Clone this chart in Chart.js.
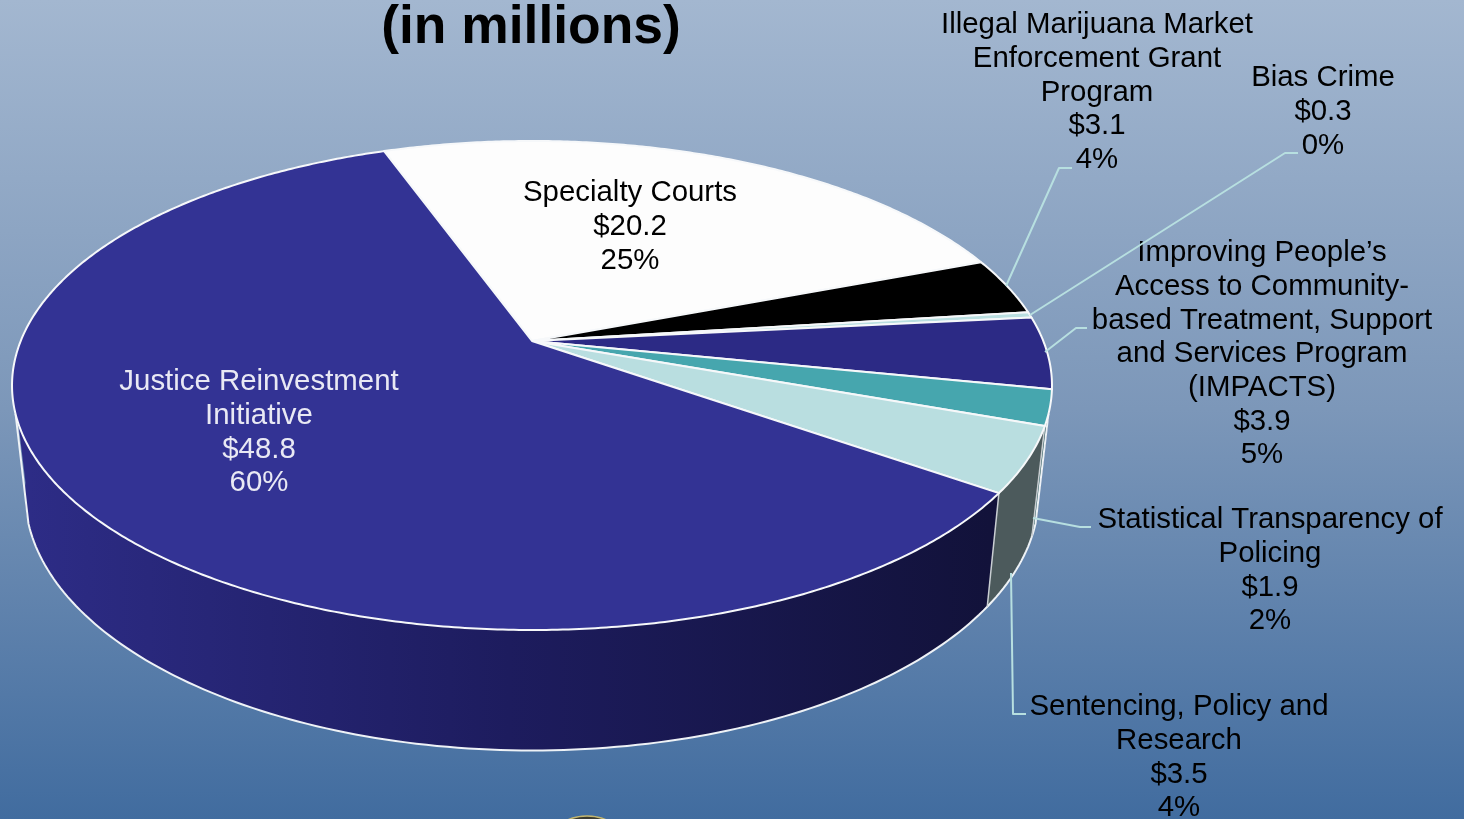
<!DOCTYPE html>
<html>
<head>
<meta charset="utf-8">
<title>Grant programs (in millions)</title>
<script src="https://cdn.jsdelivr.net/npm/chart.js@4"></script>
<style>
  html, body { margin: 0; padding: 0; overflow: hidden; }
  #wrap {
    width: 1464px; height: 819px;
    background: linear-gradient(180deg, #a3b7d0 0%, #7c97b9 50%, #416c9f 100%);
  }
  canvas { display: block; }
</style>
</head>
<body>
<div id="wrap"><canvas id="pie" width="1464" height="819"></canvas></div>
<script>
const chartTitle = "(in millions)"
const categories = [
  "Specialty Courts",
  "Illegal Marijuana Market Enforcement Grant Program",
  "Bias Crime",
  "Improving People's Access to Community-based Treatment, Support and Services Program (IMPACTS)",
  "Statistical Transparency of Policing",
  "Sentencing, Policy and Research",
  "Justice Reinvestment Initiative",
]
const amounts = [20.2, 3.1, 0.3, 3.9, 1.9, 3.5, 48.8]
const sliceColors = ["#fdfdfd", "#000000", "#b9dee0", "#2c2a85", "#46a6ae", "#b9dee0", "#333394"]
const wallColors = ["#8a8a8a", "#000000", "#4c5a5c", "#14143f", "#1e4f52", "#4c5a5c", null]
const labelLines = [
  ["Specialty Courts"],
  ["Illegal Marijuana Market", "Enforcement Grant", "Program"],
  ["Bias Crime"],
  ["Improving People\u2019s", "Access to Community-", "based Treatment, Support", "and Services Program", "(IMPACTS)"],
  ["Statistical Transparency of", "Policing"],
  ["Sentencing, Policy and", "Research"],
  ["Justice Reinvestment", "Initiative"],
]

// where the labels sit: centre x, centre y of first line
const labelPos = [[630, 193], [1097, 25], [1323, 78], [1262, 253], [1270, 520], [1179, 707], [259, 382]]
const labelInk = ["#000", "#000", "#000", "#000", "#000", "#000", "#e9e9f4"]
const leaders = [
  null,
  [[1006, 286], [1059, 168], [1072, 168]],
  [[1030, 315], [1285, 153], [1298, 153]],
  [[1045, 352], [1076, 328], [1087, 328]],
  [[1033, 518], [1080, 527], [1091, 527]],
  [[1011, 573], [1013, 714], [1026, 714]],
  null,
]

// perspective of the pie top, apex at (532, 341)
const view = { cx: 532, cy: 341, a: 236.4, b: 511.3, k: 0.182, lowerY: 447, lowerSy: 1.05, lowerSx: 0.975 }
const STEP = Math.PI / 180
const WALL_FROM = 8 * STEP
const WALL_TO = 172 * STEP

function topPoint(angle) {
  const u = Math.cos(angle), v = Math.sin(angle)
  const d = 1 - view.k * v
  return [view.cx + view.b * u / d, view.cy + view.a * v / d]
}

function lowerPoint(angle) {
  const p = topPoint(angle)
  return [view.cx + (p[0] - view.cx) * view.lowerSx, view.lowerY + (p[1] - view.cy) * view.lowerSy]
}

// angles of an arc wrapped so they can be compared with the front of the wall
function frontRange(arc) {
  const turn = Math.PI * 2
  let start = arc.startAngle, end = arc.endAngle
  while (start < -Math.PI) { start += turn; end += turn }
  const a0 = Math.max(start, WALL_FROM), a1 = Math.min(end, WALL_TO)
  return a1 > a0 ? [a0, a1] : null
}

function drawWalls(ctx, arcs) {
  const justiceWall = ctx.createLinearGradient(28, 0, 990, 0)
  justiceWall.addColorStop(0, "#2d2c86")
  justiceWall.addColorStop(0.5, "#1d1c5e")
  justiceWall.addColorStop(1, "#12123a")

  const walls = []
  arcs.forEach((arc, i) => {
    const range = frontRange(arc)
    if (range) walls.push({ range, fill: wallColors[i] || justiceWall })
  })
  walls.sort((p, q) => Math.sin(p.range[0]) - Math.sin(q.range[0]))
  walls.forEach((w) => {
    const [a0, a1] = w.range
    ctx.beginPath()
    for (let a = a0; a < a1; a += STEP) ctx.lineTo(...topPoint(a))
    ctx.lineTo(...topPoint(a1))
    ctx.lineTo(...lowerPoint(a1))
    for (let a = a1; a > a0; a -= STEP) ctx.lineTo(...lowerPoint(a))
    ctx.lineTo(...lowerPoint(a0))
    ctx.closePath()
    ctx.fillStyle = w.fill
    ctx.fill()
  })

  // lower rim and the wall seams
  ctx.strokeStyle = "#eef2f6"
  ctx.lineWidth = 2
  const from = 17 * STEP, to = 163 * STEP
  ctx.beginPath()
  ctx.moveTo(...topPoint(from))
  for (let a = from; a <= to; a += STEP) ctx.lineTo(...lowerPoint(a))
  ctx.lineTo(...topPoint(to))
  ctx.stroke()

  ctx.strokeStyle = "#c9ced2"
  ctx.lineWidth = 1.5
  arcs.forEach((arc) => {
    const a = arc.startAngle
    if (Math.sin(a) > 0.29 && Math.cos(a) > 0) {
      ctx.beginPath()
      ctx.moveTo(...topPoint(a))
      ctx.lineTo(...lowerPoint(a))
      ctx.stroke()
    }
  })
}

function drawTop(ctx, arcs) {
  arcs.forEach((arc, i) => {
    ctx.beginPath()
    ctx.moveTo(view.cx, view.cy)
    for (let a = arc.startAngle; a < arc.endAngle; a += STEP / 2) ctx.lineTo(...topPoint(a))
    ctx.lineTo(...topPoint(arc.endAngle))
    ctx.closePath()
    ctx.fillStyle = sliceColors[i]
    ctx.strokeStyle = "#f6f8fa"
    ctx.lineWidth = 2
    ctx.lineJoin = "round"
    ctx.fill()
    ctx.stroke()
  })
}

function drawLabels(ctx, total) {
  ctx.textAlign = "center"
  ctx.textBaseline = "middle"
  ctx.font = '29.4px "Liberation Sans", Arial, sans-serif'
  amounts.forEach((amount, i) => {
    const lines = labelLines[i].concat(["$" + amount.toFixed(1), Math.round(amount / total * 100) + "%"])
    ctx.fillStyle = labelInk[i]
    lines.forEach((line, n) => {
      ctx.fillText(line, labelPos[i][0], labelPos[i][1] + n * 33.7)
    })
  })
  ctx.strokeStyle = "#b7dfe0"
  ctx.lineWidth = 2
  leaders.forEach((pts) => {
    if (!pts) return
    ctx.beginPath()
    pts.forEach((p, n) => (n ? ctx.lineTo(p[0], p[1]) : ctx.moveTo(p[0], p[1])))
    ctx.stroke()
  })
  ctx.fillStyle = "#000"
  ctx.font = 'bold 53.4px "Liberation Sans", Arial, sans-serif'
  ctx.textBaseline = "alphabetic"
  ctx.fillText(chartTitle, 531, 43)
}

// the logo that peeks in at the bottom edge
function drawLogo(ctx) {
  ctx.beginPath()
  ctx.ellipse(587, 860, 46, 44, 0, 0, Math.PI * 2)
  ctx.fillStyle = "#3a3a30"
  ctx.strokeStyle = "#c2b56f"
  ctx.lineWidth = 1.5
  ctx.fill()
  ctx.stroke()
}

const pie3d = {
  id: "pie3d",
  beforeDatasetsDraw(chart) {
    const ctx = chart.ctx
    const arcs = chart.getDatasetMeta(0).data
    ctx.save()
    drawWalls(ctx, arcs)
    drawTop(ctx, arcs)
    drawLabels(ctx, amounts.reduce((s, v) => s + v, 0))
    drawLogo(ctx)
    ctx.restore()
    return false
  },
}

new Chart(document.getElementById("pie"), {
  type: "pie",
  data: {
    labels: categories,
    datasets: [{ data: amounts, backgroundColor: sliceColors }],
  },
  options: {
    responsive: false,
    animation: false,
    rotation: -19.8,
    plugins: { legend: { display: false }, tooltip: { enabled: false } },
  },
  plugins: [pie3d],
})
</script>
</body>
</html>
